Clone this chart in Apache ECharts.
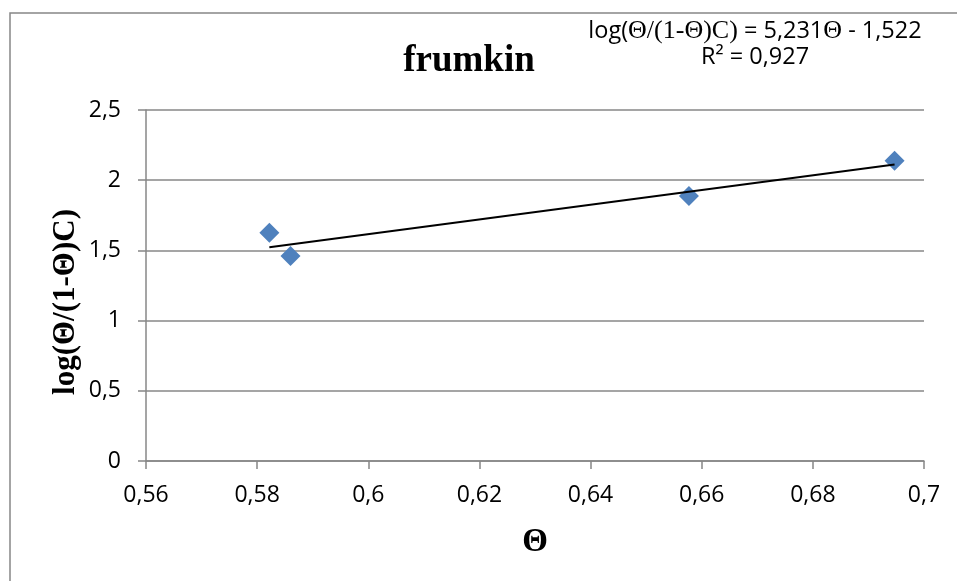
<!DOCTYPE html>
<html><head><meta charset="utf-8">
<script src="https://cdn.jsdelivr.net/npm/echarts@6/dist/echarts.min.js"></script>
<style>html,body{margin:0;padding:0;background:#fff}#c{width:957px;height:581px}</style>
</head><body><div id="c"></div>
<script>
// Data
const theta = [0.5822, 0.586, 0.6577, 0.6947];
const logValues = [1.626, 1.46, 1.887, 2.139];
const trendTheta = [0.5822, 0.6947];
const trendValues = [1.523, 2.112];
const xTicks = [0.56, 0.58, 0.6, 0.62, 0.64, 0.66, 0.68, 0.7];
const yTicks = [0, 0.5, 1, 1.5, 2, 2.5];
const chartTitle = 'frumkin';
const xTitle = 'Θ';
const yTitle = 'log(Θ/(1-Θ)C)';

const comma = v => String(parseFloat(Number(v).toFixed(4))).replace('.', ',');
const pts = theta.map((x, i) => [x, logValues[i]]);
const trend = trendTheta.map((x, i) => [x, trendValues[i]]);

const chart = echarts.init(document.getElementById('c'), null, {renderer: 'canvas'});
const gray = '#878787';
const sans = '"Open Sans", "Noto Sans", sans-serif';
const serif = '"Liberation Serif", "DejaVu Serif", serif';

chart.setOption({
  animation: false,
  backgroundColor: '#fff',
  grid: {left: 146, right: 33, top: 110, bottom: 120, containLabel: false},
  xAxis: {
    type: 'value', min: xTicks[0], max: xTicks[xTicks.length - 1], interval: 0.02,
    name: xTitle, nameLocation: 'middle', nameGap: 65,
    nameTextStyle: {fontFamily: serif, fontWeight: 'bold', fontSize: 33, color: '#000'},
    axisLine: {lineStyle: {color: gray, width: 1.5}},
    axisTick: {show: true, length: 8, lineStyle: {color: gray, width: 1.5}},
    splitLine: {show: false},
    axisLabel: {formatter: comma, fontFamily: sans, fontSize: 23, color: '#000', margin: 23}
  },
  yAxis: {
    type: 'value', min: yTicks[0], max: yTicks[yTicks.length - 1], interval: 0.5,
    axisLine: {show: true, lineStyle: {color: gray, width: 1.5}},
    axisTick: {show: true, length: 8, lineStyle: {color: gray, width: 1.5}},
    splitLine: {show: true, lineStyle: {color: gray, width: 1.5}},
    axisLabel: {formatter: comma, fontFamily: sans, fontSize: 23, color: '#000', margin: 25}
  },
  series: [
    {type: 'scatter', data: pts, symbol: 'diamond', symbolSize: 20,
     itemStyle: {color: '#4F81BD', opacity: 1}, z: 3},
    {type: 'line', data: trend, symbol: 'none', lineStyle: {color: '#000', width: 2}, z: 4}
  ],
  graphic: [
    {type: 'rect', shape: {x: 10, y: 13, width: 1000, height: 700}, silent: true,
     style: {fill: 'none', stroke: gray, lineWidth: 1.5}, z: -1},
    {type: 'text', x: 469, y: 61, style: {text: chartTitle, fontFamily: serif, fontWeight: 'bold',
     fontSize: 37, fill: '#000', align: 'center', verticalAlign: 'middle'}},
    {type: 'text', x: 66, y: 302, rotation: Math.PI / 2, style: {text: yTitle, fontFamily: serif,
     fontWeight: 'bold', fontSize: 31, fill: '#000', align: 'center', verticalAlign: 'middle'}},
    {type: 'text', x: 755, y: 44, style: {
      text: '{s|log(}{t|Θ/(1-Θ)C)}{s| = 5,231}{t|Θ}{s| - 1,522}\n{s|R² = 0,927}',
      align: 'center', verticalAlign: 'middle', lineHeight: 26,
      rich: {
        s: {fontFamily: sans, fontSize: 23.5, fill: '#000', lineHeight: 26},
        t: {fontFamily: serif, fontSize: 26, fill: '#000', lineHeight: 26}
      }}}
  ]
});
</script></body></html>
